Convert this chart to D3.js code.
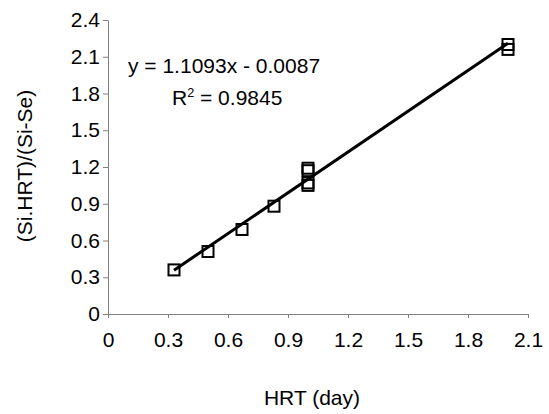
<!DOCTYPE html>
<html><head><meta charset="utf-8">
<script src="https://cdn.jsdelivr.net/npm/d3@7"></script>
<style>
body{margin:0;background:#fff;}
text{font-family:Arial,"Liberation Sans",sans-serif;fill:#000;}
</style></head>
<body><svg id="c" width="549" height="414"></svg>
<script>
const hrt = [0.33, 0.5, 0.67, 0.83, 1.0, 1.0, 1.0, 1.0, 2.0, 2.0];
const ratio = [0.36, 0.51, 0.69, 0.88, 1.19, 1.17, 1.07, 1.05, 2.20, 2.16];
const xTicks = [0, 0.3, 0.6, 0.9, 1.2, 1.5, 1.8, 2.1];
const yTicks = [0, 0.3, 0.6, 0.9, 1.2, 1.5, 1.8, 2.1, 2.4];
const slope = 1.1093, intercept = -0.0087;
const eqText = "y = 1.1093x - 0.0087";
const r2Value = "0.9845";

const svg = d3.select("#c");
const fs = 21;
const x = d3.scaleLinear().domain([0, 2.1]).range([108, 528]);
const y = d3.scaleLinear().domain([0, 2.4]).range([314, 20]);

const fmt = d => d === 0 ? "0" : d3.format(".1f")(d);

const gx = svg.append("g").attr("transform", "translate(0,314)")
  .call(d3.axisBottom(x).tickValues(xTicks).tickFormat(fmt).tickSize(4).tickSizeOuter(0));
const gy = svg.append("g").attr("transform", "translate(108,0)")
  .call(d3.axisLeft(y).tickValues(yTicks).tickFormat(fmt).tickSize(5).tickSizeOuter(0));
[gx, gy].forEach(g => {
  g.select(".domain").attr("stroke", "#808080").attr("stroke-width", 1);
  g.selectAll(".tick line").attr("stroke", "#808080");
  g.selectAll(".tick text").attr("font-size", fs).attr("font-family", "Arial, 'Liberation Sans', sans-serif").attr("fill", "#000");
});
gx.selectAll(".tick text").attr("y", 18);
gy.selectAll(".tick text").attr("x", -8);

// trend line
const xmin = d3.min(hrt), xmax = d3.max(hrt);
svg.append("line")
  .attr("x1", x(xmin)).attr("y1", y(slope * xmin + intercept))
  .attr("x2", x(xmax)).attr("y2", y(slope * xmax + intercept))
  .attr("stroke", "#000").attr("stroke-width", 3);

// markers
svg.append("g").selectAll("rect").data(hrt).join("rect")
  .attr("x", (d) => x(d) - 5.5).attr("y", (d, i) => y(ratio[i]) - 5.5)
  .attr("width", 11).attr("height", 11)
  .attr("fill", "none").attr("stroke", "#000").attr("stroke-width", 2);

// equation
svg.append("text").attr("x", 128).attr("y", 73).attr("font-size", fs).text(eqText);
const r2 = svg.append("text").attr("x", 172).attr("y", 105).attr("font-size", fs);
r2.append("tspan").text("R");
r2.append("tspan").attr("font-size", fs * 0.6).attr("dy", -8).text("2");
r2.append("tspan").attr("dy", 8).text(" = " + r2Value);

// axis titles
svg.append("text").attr("x", 312).attr("y", 405).attr("text-anchor", "middle").attr("font-size", fs).text("HRT (day)");
svg.append("text").attr("transform", "translate(32,166) rotate(-90)").attr("text-anchor", "middle").attr("font-size", fs).text("(Si.HRT)/(Si-Se)");
</script></body></html>
